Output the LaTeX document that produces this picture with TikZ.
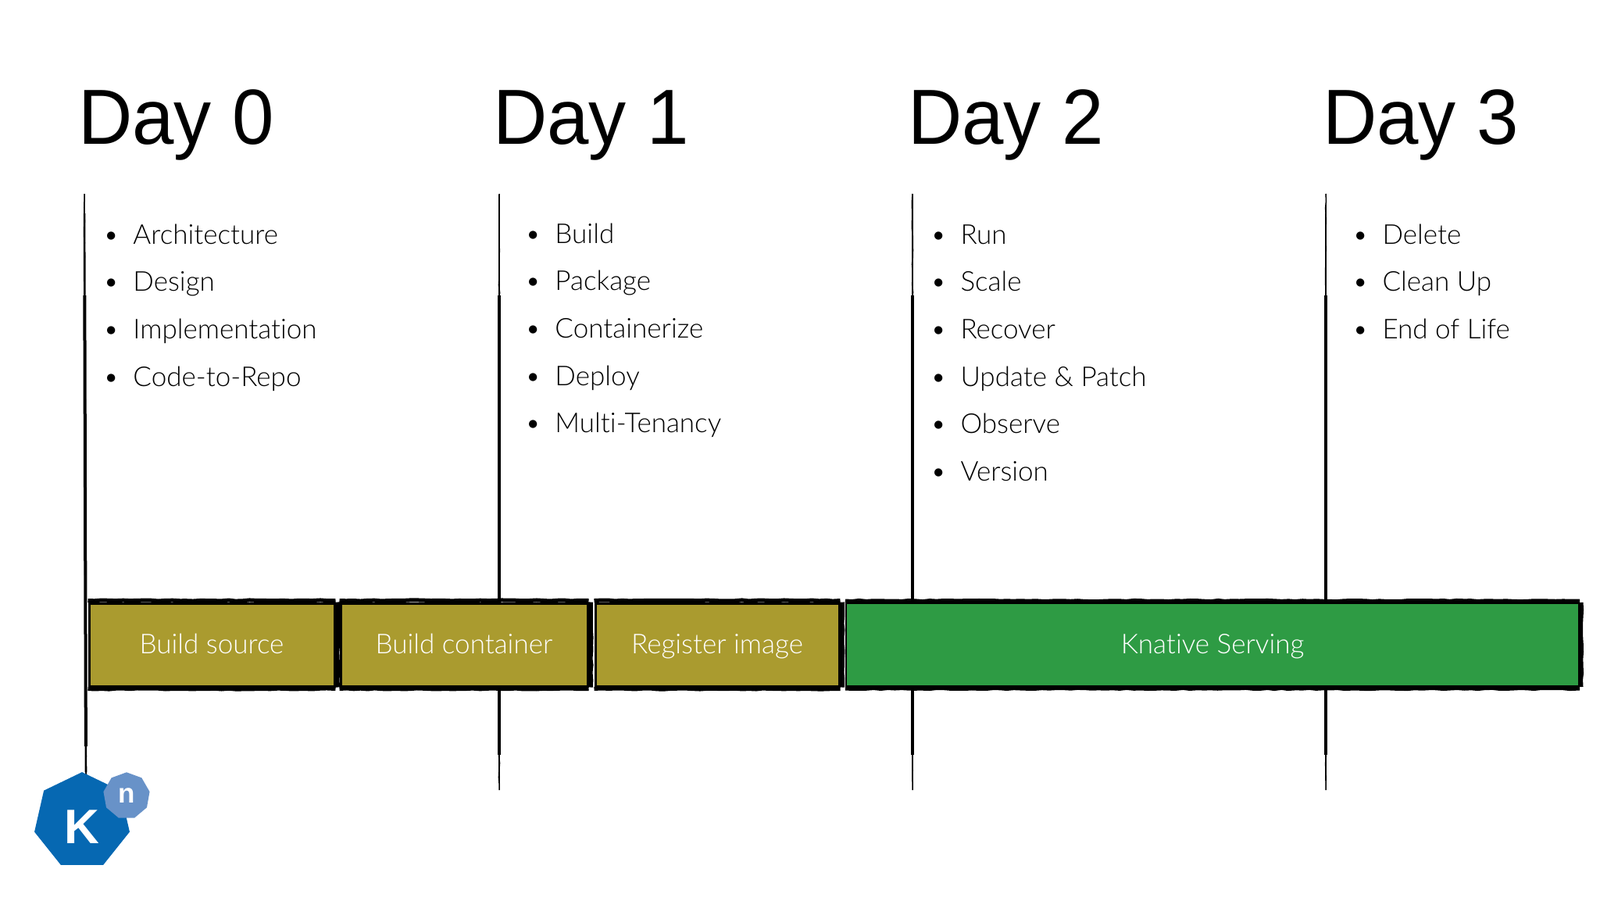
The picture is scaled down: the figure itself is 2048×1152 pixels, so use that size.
\documentclass[tikz,border=0pt]{standalone}
\usepackage{fontspec}
\setmainfont{Liberation Sans}
\newfontfamily\headfont[FakeStretch=0.96]{Liberation Sans}
\newfontfamily\thinfont[Ligatures=NoCommon]{Lato Light}
\usetikzlibrary{decorations.pathmorphing,shapes.geometric}
\definecolor{buildolive}{RGB}{170,155,47}
\definecolor{servegreen}{RGB}{46,155,68}
\definecolor{knblue}{RGB}{6,104,178}
\definecolor{knlight}{RGB}{104,146,200}
\tikzstyle{rough} = [decorate, decoration={random steps, segment length=9, amplitude=0.6}]
\tikzstyle{dayhead} = [anchor=base west, inner sep=0, font=\headfont\fontsize{100}{100}\selectfont]
\tikzstyle{item} = [anchor=base west, inner sep=0, font=\thinfont\fontsize{35}{35}\selectfont]
\tikzstyle{timeline} = [line width=1, postaction={draw, line width=2.6, shorten <=25, shorten >=12}, postaction={draw, line width=4, shorten <=130, shorten >=45}, postaction={draw, line width=1.5, rough}]
\tikzstyle{block} = [draw=black, line width=3, minimum height=106, inner sep=0, text=white, text height=34, text depth=12, font=\thinfont\fontsize{35}{35}\selectfont]
\tikzstyle{brush} = [line width=5, rough]
\tikzstyle{knbadge} = [regular polygon, inner sep=0, outer sep=0, text=white, font=\bfseries]

\begin{document}
\begin{tikzpicture}[x=1pt,y=-1pt]
\useasboundingbox (0,0) rectangle (2048,1152);

% time lines
\coordinate (top0) at (108,248);
\coordinate (bot0) at (110,1000);
\coordinate (top1) at (639,248);
\coordinate (bot1) at (639,1011);
\coordinate (top2) at (1168,248);
\coordinate (bot2) at (1168,1011);
\coordinate (top3) at (1697,248);
\coordinate (bot3) at (1697,1011);
\draw[timeline] (top0) -- (bot0);
\draw[timeline] (top1) -- (bot1);
\draw[timeline] (top2) -- (bot2);
\draw[timeline] (top3) -- (bot3);

% headings
\node[dayhead] (day0) at (100,184) {Day 0};
\node[dayhead] (day1) at (631,184) {Day 1};
\node[dayhead] (day2) at (1162,184) {Day 2};
\node[dayhead] (day3) at (1693,184) {Day 3};

% Day 0
\node[item] (arch) at (132,312) {\textbullet\hspace{18pt}Architecture};
\node[item] (design) at (132,372.7) {\textbullet\hspace{18pt}Design};
\node[item] (impl) at (132,433.4) {\textbullet\hspace{18pt}Implementation};
\node[item] (repo) at (132,494.1) {\textbullet\hspace{18pt}Code-to-Repo};

% Day 1
\node[item] (build) at (672,311) {\textbullet\hspace{18pt}Build};
\node[item] (package) at (672,371.7) {\textbullet\hspace{18pt}Package};
\node[item] (contain) at (672,432.4) {\textbullet\hspace{18pt}Containerize};
\node[item] (deploy) at (672,493.1) {\textbullet\hspace{18pt}Deploy};
\node[item] (tenancy) at (672,553.8) {\textbullet\hspace{18pt}Multi-Tenancy};

% Day 2
\node[item] (run) at (1191,312) {\textbullet\hspace{18pt}Run};
\node[item] (scale) at (1191,372.7) {\textbullet\hspace{18pt}Scale};
\node[item] (recover) at (1191,433.4) {\textbullet\hspace{18pt}Recover};
\node[item] (update) at (1191,494.1) {\textbullet\hspace{18pt}Update \& Patch};
\node[item] (observe) at (1191,554.8) {\textbullet\hspace{18pt}Observe};
\node[item] (version) at (1191,615.5) {\textbullet\hspace{18pt}Version};

% Day 3
\node[item] (delete) at (1731,312) {\textbullet\hspace{18pt}Delete};
\node[item] (clean) at (1731,372.7) {\textbullet\hspace{18pt}Clean Up};
\node[item] (end) at (1731,433.4) {\textbullet\hspace{18pt}End of Life};

% pipeline
\node[block, fill=buildolive, minimum width=314] (source) at (271,825) {Build source};
\node[block, fill=buildolive, minimum width=316] (container) at (594,825) {Build container};
\node[block, fill=buildolive, minimum width=312] (image) at (918,825) {Register image};
\node[block, fill=servegreen, minimum width=938, line width=2] (serving) at (1552,825) {Knative Serving};

\draw[brush] ([yshift=2]source.north west) -- ([yshift=2]source.north east);
\draw[brush] ([yshift=-2]source.south west) -- ([yshift=-2]source.south east);
\draw[brush, line width=6] ([xshift=2.5]source.north east) -- ([xshift=2.5]source.south east);
\draw[brush] ([yshift=2]container.north west) -- ([yshift=2]container.north east);
\draw[brush] ([yshift=-2]container.south west) -- ([yshift=-2]container.south east);
\draw[brush, line width=6] ([xshift=2.5]container.north east) -- ([xshift=2.5]container.south east);
\draw[brush] ([yshift=2]image.north west) -- ([yshift=2]image.north east);
\draw[brush] ([yshift=-2]image.south west) -- ([yshift=-2]image.south east);
\draw[brush, line width=6] ([xshift=2.5]image.north east) -- ([xshift=2.5]image.south east);
\draw[brush] ([yshift=2]serving.north west) -- ([yshift=2]serving.north east);
\draw[brush] ([yshift=-2]serving.south west) -- ([yshift=-2]serving.south east);
\draw[brush] ([xshift=2]serving.north east) -- ([xshift=2]serving.south east);

% logo
\node[knbadge, regular polygon sides=7, fill=knblue, minimum size=125, text height=57, font=\bfseries\fontsize{62}{62}\selectfont] (kbig) at (105,1050.6) {K};
\node[knbadge, regular polygon sides=9, fill=knlight, minimum size=60, font=\bfseries\fontsize{35}{35}\selectfont] (ksmall) at (162,1018.3) {n};

\end{tikzpicture}
\end{document}
